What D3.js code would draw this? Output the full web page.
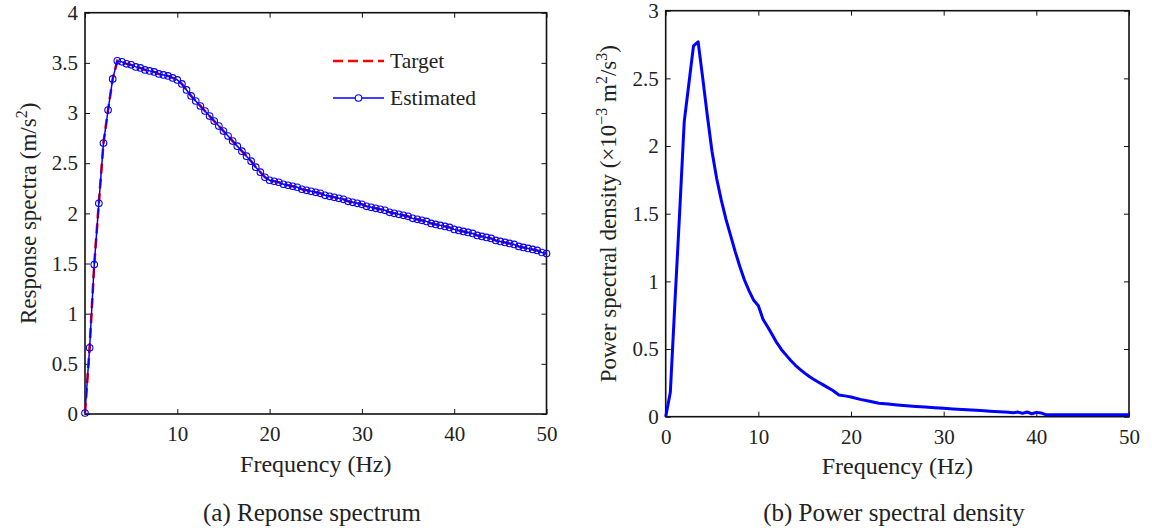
<!DOCTYPE html>
<html>
<head>
<meta charset="utf-8">
<script src="https://cdn.jsdelivr.net/npm/d3@7/dist/d3.min.js"></script>
<style>
  body { margin: 0; background: #fff; }
  svg text { font-family: "Liberation Serif", "DejaVu Serif", serif; fill: #222; }
</style>
</head>
<body>
<svg id="fig" width="1152" height="532"></svg>
<script>
// (a) response spectrum, sampled every 0.5 Hz
const rsFreq = [
  0, 0.5, 1, 1.5, 2, 2.5, 3, 3.5, 4, 4.5, 5, 5.5, 6, 6.5, 7, 7.5, 8, 8.5, 9, 9.5,
  10, 10.5, 11, 11.5, 12, 12.5, 13, 13.5, 14, 14.5, 15, 15.5, 16, 16.5, 17, 17.5, 18, 18.5, 19, 19.5,
  20, 20.5, 21, 21.5, 22, 22.5, 23, 23.5, 24, 24.5, 25, 25.5, 26, 26.5, 27, 27.5, 28, 28.5, 29, 29.5,
  30, 30.5, 31, 31.5, 32, 32.5, 33, 33.5, 34, 34.5, 35, 35.5, 36, 36.5, 37, 37.5, 38, 38.5, 39, 39.5,
  40, 40.5, 41, 41.5, 42, 42.5, 43, 43.5, 44, 44.5, 45, 45.5, 46, 46.5, 47, 47.5, 48, 48.5, 49, 49.5, 50
];
const targetSpectrum = [
  0.01, 0.66, 1.49, 2.10, 2.70, 3.03, 3.34, 3.52, 3.51, 3.49, 3.48, 3.46, 3.45, 3.43, 3.42, 3.41, 3.39, 3.38, 3.37, 3.35,
  3.33, 3.29, 3.23, 3.17, 3.12, 3.07, 3.02, 2.97, 2.92, 2.87, 2.82, 2.77, 2.72, 2.67, 2.62, 2.57, 2.52, 2.46, 2.41, 2.36,
  2.33, 2.32, 2.31, 2.29, 2.28, 2.27, 2.26, 2.24, 2.23, 2.22, 2.21, 2.20, 2.18, 2.17, 2.16, 2.15, 2.14, 2.12, 2.11, 2.10,
  2.09, 2.07, 2.06, 2.05, 2.04, 2.03, 2.01, 2.00, 1.99, 1.98, 1.97, 1.95, 1.94, 1.93, 1.92, 1.90, 1.89, 1.88, 1.87, 1.86,
  1.84, 1.83, 1.82, 1.81, 1.80, 1.78, 1.77, 1.76, 1.75, 1.73, 1.72, 1.71, 1.70, 1.69, 1.67, 1.66, 1.65, 1.64, 1.63, 1.61, 1.60
];
const estimatedSpectrum = [
  0.01, 0.66, 1.49, 2.10, 2.70, 3.03, 3.34, 3.52, 3.51, 3.49, 3.48, 3.46, 3.45, 3.43, 3.42, 3.41, 3.39, 3.38, 3.37, 3.35,
  3.33, 3.29, 3.23, 3.17, 3.12, 3.07, 3.02, 2.97, 2.92, 2.87, 2.82, 2.77, 2.72, 2.67, 2.62, 2.57, 2.52, 2.46, 2.41, 2.36,
  2.33, 2.32, 2.31, 2.29, 2.28, 2.27, 2.26, 2.24, 2.23, 2.22, 2.21, 2.20, 2.18, 2.17, 2.16, 2.15, 2.14, 2.12, 2.11, 2.10,
  2.09, 2.07, 2.06, 2.05, 2.04, 2.03, 2.01, 2.00, 1.99, 1.98, 1.97, 1.95, 1.94, 1.93, 1.92, 1.90, 1.89, 1.88, 1.87, 1.86,
  1.84, 1.83, 1.82, 1.81, 1.80, 1.78, 1.77, 1.76, 1.75, 1.73, 1.72, 1.71, 1.70, 1.69, 1.67, 1.66, 1.65, 1.64, 1.63, 1.61, 1.60
];

// (b) power spectral density, x10^-3 m^2/s^3
const psdFreq = [
  0, 0.5, 1, 1.5, 2, 2.5, 3, 3.5, 4, 4.5, 5, 5.5, 6, 6.5, 7, 7.5, 8, 8.5, 9, 9.5,
  10, 10.5, 11, 11.5, 12, 12.5, 13, 13.5, 14, 14.5, 15, 15.5, 16, 16.5, 17, 17.5, 18, 18.7,
  19.5, 20, 21, 22, 23, 24, 25, 26, 27, 28, 29, 30, 31, 32, 33, 34, 35, 36, 37,
  37.5, 38, 38.5, 39, 39.5, 40, 40.5, 41, 45, 50
];
const psdValue = [
  0, 0.18, 0.85, 1.50, 2.18, 2.46, 2.74, 2.77, 2.50, 2.22, 1.96, 1.76, 1.60, 1.46, 1.34, 1.22, 1.11, 1.01, 0.93, 0.86,
  0.82, 0.72, 0.665, 0.605, 0.545, 0.495, 0.455, 0.415, 0.38, 0.35, 0.322, 0.297, 0.275, 0.255, 0.235, 0.215, 0.195, 0.16,
  0.152, 0.146, 0.128, 0.114, 0.100, 0.093, 0.087, 0.081, 0.076, 0.071, 0.066, 0.062, 0.057, 0.053, 0.049, 0.045, 0.041, 0.037, 0.033,
  0.030, 0.034, 0.025, 0.035, 0.022, 0.032, 0.028, 0.015, 0.015, 0.015
];

const freqTicks = [0, 10, 20, 30, 40, 50];
const rsYTicks = [0, 0.5, 1, 1.5, 2, 2.5, 3, 3.5, 4];
const psdYTicks = [0, 0.5, 1, 1.5, 2, 2.5, 3];

let svg = d3.select("#fig");

// draws the box, inward ticks and tick labels of one panel
function drawFrame(box, x, y, xLabelTicks, yTicks) {
    let g = svg.append("g");

    g.append("g")
        .attr("transform", `translate(0,${box.bottom})`)
        .call(d3.axisBottom(x).tickValues(xLabelTicks).tickSizeInner(-5).tickSizeOuter(0)
            .tickPadding(12).tickFormat(d => d));
    g.append("g")
        .attr("transform", `translate(0,${box.top})`)
        .call(d3.axisTop(x).tickValues(freqTicks).tickSizeInner(-5).tickSizeOuter(0).tickFormat(""));
    g.append("g")
        .attr("transform", `translate(${box.left},0)`)
        .call(d3.axisLeft(y).tickValues(yTicks).tickSizeInner(-5).tickSizeOuter(0)
            .tickPadding(7).tickFormat(d => d));
    g.append("g")
        .attr("transform", `translate(${box.right},0)`)
        .call(d3.axisRight(y).tickValues(yTicks).tickSizeInner(-5).tickSizeOuter(0).tickFormat(""));

    g.selectAll(".domain").remove();
    g.selectAll(".tick line").attr("stroke", "#111").attr("stroke-width", 1);
    g.selectAll(".tick text")
        .style("font-size", "21px")
        .attr("fill", "#222");

    g.append("rect")
        .attr("x", box.left)
        .attr("y", box.top)
        .attr("width", box.right - box.left)
        .attr("height", box.bottom - box.top)
        .attr("fill", "none")
        .attr("stroke", "#111")
        .attr("stroke-width", 1.6);
    return g;
}

// ---------- (a) Response spectrum ----------
let boxA = {left: 85, right: 546.5, top: 12.7, bottom: 414};
let xA = d3.scaleLinear().domain([0, 50]).range([boxA.left, boxA.right]);
let yA = d3.scaleLinear().domain([0, 4]).range([boxA.bottom, boxA.top]);

drawFrame(boxA, xA, yA, [10, 20, 30, 40, 50], rsYTicks);

let targetLine = d3.line()
    .x((d, i) => xA(rsFreq[i]))
    .y(d => yA(d));

svg.append("path")
    .datum(targetSpectrum)
    .attr("d", targetLine)
    .attr("fill", "none")
    .attr("stroke", "#ff0000")
    .attr("stroke-width", 2.6)
    .attr("stroke-dasharray", "10,5");

svg.append("path")
    .datum(estimatedSpectrum)
    .attr("d", targetLine)
    .attr("fill", "none")
    .attr("stroke", "#0000ff")
    .attr("stroke-width", 1.5);

svg.append("g")
    .selectAll("circle")
    .data(estimatedSpectrum)
    .join("circle")
    .attr("cx", (d, i) => xA(rsFreq[i]))
    .attr("cy", d => yA(d))
    .attr("r", 3.3)
    .attr("fill", "none")
    .attr("stroke", "#0000ff")
    .attr("stroke-width", 1.1);

// legend
let legend = svg.append("g");
legend.append("line")
    .attr("x1", 333).attr("x2", 384).attr("y1", 61).attr("y2", 61)
    .attr("stroke", "#ff0000").attr("stroke-width", 2.6).attr("stroke-dasharray", "10,5");
legend.append("text")
    .attr("x", 390).attr("y", 68)
    .style("font-size", "21.5px")
    .text("Target");
legend.append("line")
    .attr("x1", 333).attr("x2", 384).attr("y1", 98).attr("y2", 98)
    .attr("stroke", "#0000ff").attr("stroke-width", 1.5);
legend.append("circle")
    .attr("cx", 358.5).attr("cy", 98).attr("r", 3.3)
    .attr("fill", "#fff").attr("stroke", "#0000ff").attr("stroke-width", 1.1);
legend.append("text")
    .attr("x", 390).attr("y", 105)
    .style("font-size", "21.5px")
    .text("Estimated");

// axis titles
svg.append("text")
    .attr("x", (boxA.left + boxA.right) / 2)
    .attr("y", 472)
    .attr("text-anchor", "middle")
    .style("font-size", "24px")
    .text("Frequency (Hz)");

let ylabA = svg.append("text")
    .attr("transform", `translate(36,${(boxA.top + boxA.bottom) / 2}) rotate(-90)`)
    .attr("text-anchor", "middle")
    .style("font-size", "23px");
ylabA.append("tspan").text("Response spectra (m/s");
ylabA.append("tspan").attr("dy", -9).style("font-size", "16px").text("2");
ylabA.append("tspan").attr("dy", 9).text(")");

svg.append("text")
    .attr("x", 312)
    .attr("y", 521)
    .attr("text-anchor", "middle")
    .style("font-size", "25px")
    .text("(a) Reponse spectrum");

// ---------- (b) Power spectral density ----------
let boxB = {left: 665.7, right: 1129, top: 10.7, bottom: 416.7};
let xB = d3.scaleLinear().domain([0, 50]).range([boxB.left, boxB.right]);
let yB = d3.scaleLinear().domain([0, 3]).range([boxB.bottom, boxB.top]);

drawFrame(boxB, xB, yB, freqTicks, psdYTicks);

svg.append("path")
    .datum(psdValue)
    .attr("d", d3.line().x((d, i) => xB(psdFreq[i])).y(d => yB(d)))
    .attr("fill", "none")
    .attr("stroke", "#0000ff")
    .attr("stroke-width", 3)
    .attr("stroke-linejoin", "round");

svg.append("text")
    .attr("x", (boxB.left + boxB.right) / 2)
    .attr("y", 474)
    .attr("text-anchor", "middle")
    .style("font-size", "24px")
    .text("Frequency (Hz)");

let ylabB = svg.append("text")
    .attr("transform", `translate(616,${(boxB.top + boxB.bottom) / 2}) rotate(-90)`)
    .attr("text-anchor", "middle")
    .style("font-size", "23px");
ylabB.append("tspan").text("Power spectral density (×10");
ylabB.append("tspan").attr("dy", -9).style("font-size", "16px").text("−3");
ylabB.append("tspan").attr("dy", 9).text(" m");
ylabB.append("tspan").attr("dy", -9).style("font-size", "16px").text("2");
ylabB.append("tspan").attr("dy", 9).text("/s");
ylabB.append("tspan").attr("dy", -9).style("font-size", "16px").text("3");
ylabB.append("tspan").attr("dy", 9).text(")");

svg.append("text")
    .attr("x", 894)
    .attr("y", 521)
    .attr("text-anchor", "middle")
    .style("font-size", "25px")
    .text("(b) Power spectral density");
</script>
</body>
</html>
